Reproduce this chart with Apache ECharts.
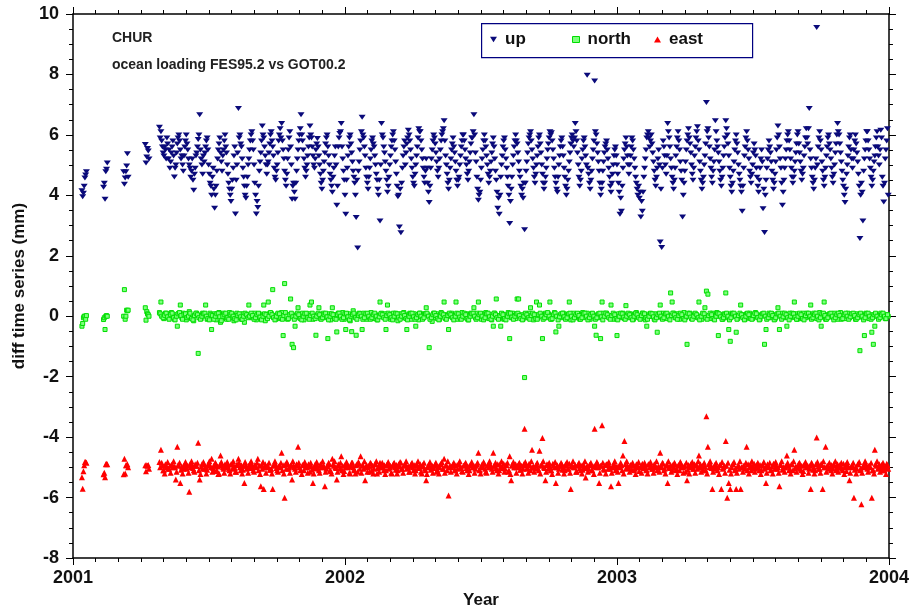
<!DOCTYPE html>
<html><head><meta charset="utf-8">
<script src="https://cdn.jsdelivr.net/npm/echarts@6/dist/echarts.min.js"></script>
<style>html,body{margin:0;padding:0;background:#fff}#main{width:912px;height:616px}</style>
</head><body><div id="main"></div>
<script>
// Day of observation, counted from 2001-01-01 (even-day samples + early 2001 clusters)
const days = [
12,13,14,15,16,17,18, 41,42,43,44,45,46, 68,69,70,71,72,73,74, 97,98,99,100,101,102,
116,118,120,122,124,126,128,130,132,134,136,138,140,142,144,
146,148,150,152,154,156,158,160,162,164,166,168,170,172,174,
176,178,180,182,184,186,188,190,192,194,196,198,200,202,204,
206,208,210,212,214,216,218,220,222,224,226,228,230,232,234,
236,238,240,242,244,246,248,250,252,254,256,258,260,262,264,
266,268,270,272,274,276,278,280,282,284,286,288,290,292,294,
296,298,300,302,304,306,308,310,312,314,316,318,320,322,324,
326,328,330,332,334,336,338,340,342,344,346,348,350,352,354,
356,358,360,362,364,366,368,370,372,374,376,378,380,382,384,
386,388,390,392,394,396,398,400,402,404,406,408,410,412,414,
416,418,420,422,424,426,428,430,432,434,436,438,440,442,444,
446,448,450,452,454,456,458,460,462,464,466,468,470,472,474,
476,478,480,482,484,486,488,490,492,494,496,498,500,502,504,
506,508,510,512,514,516,518,520,522,524,526,528,530,532,534,
536,538,540,542,544,546,548,550,552,554,556,558,560,562,564,
566,568,570,572,574,576,578,580,582,584,586,588,590,592,594,
596,598,600,602,604,606,608,610,612,614,616,618,620,622,624,
626,628,630,632,634,636,638,640,642,644,646,648,650,652,654,
656,658,660,662,664,666,668,670,672,674,676,678,680,682,684,
686,688,690,692,694,696,698,700,702,704,706,708,710,712,714,
716,718,720,722,724,726,728,730,732,734,736,738,740,742,744,
746,748,750,752,754,756,758,760,762,764,766,768,770,772,774,
776,778,780,782,784,786,788,790,792,794,796,798,800,802,804,
806,808,810,812,814,816,818,820,822,824,826,828,830,832,834,
836,838,840,842,844,846,848,850,852,854,856,858,860,862,864,
866,868,870,872,874,876,878,880,882,884,886,888,890,892,894,
896,898,900,902,904,906,908,910,912,914,916,918,920,922,924,
926,928,930,932,934,936,938,940,942,944,946,948,950,952,954,
956,958,960,962,964,966,968,970,972,974,976,978,980,982,984,
986,988,990,992,994,996,998,1000,1002,1004,1006,1008,1010,1012,1014,
1016,1018,1020,1022,1024,1026,1028,1030,1032,1034,1036,1038,1040,1042,1044,
1046,1048,1050,1052,1054,1056,1058,1060,1062,1064,1066,1068,1070,1072,1074,
1076,1078,1080,1082,1084,1086,1088,1090,1092,1094
];
const upValues = [
4.15,3.95,4.07,4.3,4.57,4.67,4.78, 4.27,4.4,3.87,4.78,4.86,5.07, 4.78,4.37,4.57,4.78,4.97,5.38,4.6, 5.68,5.07,5.27,5.55,5.47,5.2,
6.25,6.1,5.6,5.3,5.5,5.9,5.2,4.9,5.4,5.8,4.61,5.0,5.7,6.0,5.5,
5.3,4.8,5.6,6.0,5.5,5.0,4.6,5.2,4.17,4.9,5.4,5.85,6.67,5.2,4.7,
5.1,5.6,5.9,5.0,4.4,4.0,4.9,3.57,4.3,5.2,5.7,5.4,4.8,5.5,6.0,
5.4,4.7,4.2,3.8,4.5,5.3,3.38,5.0,6.87,6.0,5.6,4.9,4.3,3.9,4.6,
5.2,5.8,6.1,5.5,4.4,3.38,3.6,4.8,5.4,6.29,5.9,5.3,4.7,5.1,5.7,
6.1,5.6,4.9,4.5,5.0,5.8,6.2,6.38,5.5,4.8,4.3,5.2,5.9,5.6,3.87,
4.4,3.87,4.8,5.5,6.0,6.67,5.8,5.2,4.6,5.0,5.6,6.29,5.9,5.3,4.9,
5.5,5.88,5.3,4.7,4.2,4.8,5.4,5.9,5.6,5.0,4.5,4.1,4.9,5.6,3.67,
5.6,6.05,6.38,5.2,4.5,3.37,4.9,5.6,6.0,5.4,4.8,4.4,3.27,2.26,5.1,
5.8,6.58,5.9,5.3,4.6,4.2,4.9,5.5,5.9,5.6,5.0,4.5,4.0,3.15,6.38,
5.9,5.4,4.8,4.1,4.6,5.3,5.8,6.1,5.5,4.7,3.95,2.95,2.76,4.9,5.6,
5.0,5.7,6.15,5.8,5.2,4.6,4.3,5.0,5.6,6.2,6.1,5.5,4.9,4.4,5.2,
4.4,3.76,4.9,5.5,6.0,5.7,5.1,4.6,5.2,5.8,6.1,6.47,5.3,4.7,4.2,
4.9,5.5,5.9,5.4,4.8,4.3,4.6,5.3,5.8,6.0,5.5,5.0,4.5,5.1,5.7,
5.9,6.67,5.4,4.6,3.84,4.1,4.9,5.5,6.0,5.6,5.0,4.4,4.8,5.4,5.9,
5.2,4.5,3.57,3.37,4.6,5.3,5.8,5.5,4.9,4.3,3.07,4.2,5.0,5.6,6.0,
5.7,5.1,4.6,4.0,3.9,2.86,4.8,5.4,5.9,6.1,5.5,4.9,4.4,5.0,5.6,
6.0,5.4,4.7,4.2,4.6,5.2,5.7,6.1,6.07,5.5,4.9,4.4,4.1,5.0,5.6,
5.9,5.3,4.6,4.0,4.5,5.1,5.7,6.0,5.6,6.38,5.8,5.0,4.3,4.8,5.5,
5.9,5.3,7.97,4.7,4.2,4.8,5.5,7.78,6.0,5.4,4.8,4.0,4.4,5.1,5.6,
5.8,5.2,4.6,4.1,4.7,5.3,5.6,5.0,4.4,3.37,3.47,4.9,5.5,5.9,5.3,
4.7,5.3,5.9,5.5,4.9,4.4,4.0,3.9,3.28,3.47,4.6,5.2,5.9,6.1,5.6,
6.0,5.4,4.8,4.3,4.9,5.5,2.46,2.27,5.8,5.3,4.7,6.38,5.9,5.2,4.6,
4.2,4.9,5.6,6.1,5.5,4.8,3.28,4.4,5.1,5.8,6.2,5.7,5.0,4.5,5.3,
5.9,6.27,5.5,4.8,4.2,4.6,5.3,7.07,6.2,5.6,4.9,4.4,5.1,6.47,5.8,
5.4,4.8,4.3,4.9,5.6,6.47,6.0,5.3,4.6,4.1,4.8,5.5,6.0,5.4,4.7,
4.3,3.47,4.9,5.6,6.1,5.5,4.8,4.4,5.0,5.7,5.3,4.6,4.1,4.9,5.5,
3.56,2.77,4.5,5.2,5.8,5.4,4.8,4.2,4.7,5.5,6.29,5.6,4.9,3.67,4.5,
5.2,5.8,6.1,5.5,4.9,4.4,4.8,5.4,6.0,5.7,5.1,4.5,4.9,5.6,6.2,
5.7,6.87,5.2,4.6,4.2,4.9,9.55,5.6,6.1,5.5,4.8,4.3,4.9,5.6,6.0,
5.5,4.9,4.4,5.0,5.7,6.38,6.0,5.4,4.8,4.3,3.76,4.7,5.3,5.9,5.5,
4.9,5.5,6.0,5.4,4.7,2.57,4.4,3.15,5.2,5.8,6.1,5.5,4.9,4.3,4.8,
5.3,5.9,5.6,5.0,6.15,4.6,3.78,5.2,5.8,4.0
];
const northValues = [
-0.33,-0.24,-0.05,0.0,0.0,-0.1,0.02, -0.11,-0.05,-0.44,0.0,0.02,0.0, 0.0,0.88,-0.1,0.0,0.2,0.18,0.2, 0.28,-0.13,0.15,0.08,0.05,0.0,
0.12,0.47,0.05,-0.08,0.1,0.02,-0.05,0.08,0.12,0.0,-0.1,0.05,-0.33,0.1,0.37,
-0.05,0.1,0.0,-0.12,0.08,0.15,-0.05,0.0,-0.15,0.05,0.1,-1.23,0.02,-0.08,0.1,
0.05,0.37,-0.1,0.0,0.1,-0.44,-0.05,0.08,-0.12,0.0,0.12,-0.2,-0.05,0.1,0.03,
-0.1,0.0,0.12,-0.05,0.05,-0.15,0.0,0.1,-0.05,0.02,-0.1,0.08,-0.2,0.05,0.0,
0.37,0.05,-0.05,0.0,0.1,-0.12,0.02,0.08,-0.08,0.0,0.37,-0.15,0.05,0.47,0.1,
0.1,0.88,0.02,-0.1,0.05,0.0,-0.08,0.12,-0.64,1.08,0.05,-0.1,0.0,0.57,-0.93,
-1.04,-0.33,0.05,0.28,-0.05,0.0,0.1,-0.12,0.05,-0.02,0.08,0.37,0.47,-0.1,0.0,
-0.63,0.05,0.28,-0.08,0.0,0.1,-0.05,0.03,-0.74,0.08,-0.12,0.28,0.0,0.05,-0.52,
0.1,-0.05,0.05,0.12,-0.1,-0.44,0.0,0.08,-0.15,-0.51,0.18,0.05,-0.63,0.0,0.1,
0.05,-0.44,0.1,0.0,-0.1,0.08,-0.05,0.12,0.0,-0.08,0.05,-0.12,0.02,0.47,0.1,
0.0,0.08,-0.44,0.37,0.05,-0.1,0.02,0.1,-0.05,0.0,-0.15,0.05,0.08,-0.05,0.12,
-0.05,-0.44,0.05,0.1,-0.1,0.0,0.08,-0.33,0.02,-0.12,0.1,0.0,-0.05,0.08,0.28,
0.05,-1.04,0.0,-0.17,0.1,-0.05,0.08,0.0,-0.1,0.12,0.02,0.47,-0.08,0.05,-0.44,
0.0,0.1,-0.05,0.02,0.47,-0.1,0.05,-0.08,0.12,0.0,-0.05,0.08,-0.12,0.03,0.1,
0.05,0.28,-0.05,0.1,0.47,0.0,-0.1,0.08,-0.05,0.12,0.0,-0.08,0.05,-0.12,-0.33,
0.1,0.57,0.0,-0.05,-0.33,0.08,-0.1,0.05,0.0,0.12,-0.74,-0.05,0.1,0.02,-0.08,
0.57,0.57,0.0,0.05,-0.1,-2.03,0.08,-0.05,0.1,0.28,0.0,-0.12,0.05,0.47,-0.05,
0.37,0.05,-0.74,0.0,0.1,-0.05,0.08,0.47,-0.1,0.02,0.12,-0.52,0.0,-0.33,0.05,
-0.05,0.1,0.0,-0.08,0.05,0.47,-0.12,0.02,0.1,-0.05,0.0,0.08,-0.1,0.05,0.12,
0.05,-0.05,0.1,0.0,-0.1,0.08,0.02,-0.33,-0.63,0.05,-0.05,-0.74,0.47,0.1,0.0,
0.1,0.0,-0.05,0.37,0.02,-0.1,0.05,-0.64,0.08,-0.05,0.0,0.1,-0.08,0.35,0.05,
-0.05,0.08,0.0,-0.1,0.05,0.12,-0.02,0.0,-0.08,0.1,0.05,-0.12,-0.33,0.0,0.08,
0.0,0.05,-0.1,0.08,-0.53,0.0,0.37,-0.05,0.1,0.02,-0.08,0.05,0.0,0.77,0.47,
0.1,-0.05,0.0,0.08,-0.1,0.05,0.0,0.12,-0.05,-0.93,0.02,0.1,-0.08,0.0,0.05,
0.05,-0.05,0.47,0.0,-0.1,0.08,0.28,0.83,0.73,0.02,-0.08,0.1,-0.05,0.0,0.12,
-0.64,0.05,0.0,-0.1,0.08,0.77,-0.05,-0.44,-0.83,0.1,0.0,0.05,-0.53,-0.08,0.02,
0.37,0.0,0.05,-0.1,0.08,-0.05,0.1,0.0,-0.08,0.05,0.12,-0.02,0.0,-0.1,0.05,
0.05,-0.93,-0.44,0.0,0.1,-0.05,0.08,0.0,-0.1,0.05,0.28,-0.44,0.02,0.1,-0.05,
0.0,-0.33,0.05,0.1,-0.05,0.0,0.47,0.08,-0.1,0.02,0.05,-0.08,0.1,0.0,-0.05,
0.05,0.0,0.37,-0.05,0.1,0.0,-0.08,0.05,0.12,-0.33,0.0,0.47,-0.1,0.05,0.02,
0.0,0.08,-0.05,0.1,0.0,-0.1,0.05,0.12,-0.02,0.0,-0.08,0.05,0.1,-0.05,0.0,
0.05,0.0,-0.1,0.08,0.0,-1.14,0.05,-0.05,-0.64,0.1,0.0,-0.08,0.05,-0.53,-0.93,
-0.33,0.05,0.0,-0.05,0.1,0.0,0.02,-0.08,0.05,0.0
];
const eastValues = [
-5.33,-5.71,-5.13,-4.93,-4.82,-4.82,-4.85, -5.23,-5.18,-5.33,-4.9,-4.88,-4.9, -5.23,-4.72,-5.2,-4.93,-4.93,-4.9,-5.0, -4.93,-5.13,-4.93,-4.95,-4.92,-5.05,
-4.82,-4.42,-4.95,-5.1,-4.9,-5.0,-5.05,-4.95,-4.92,-5.0,-4.97,-5.4,-4.32,-4.95,-5.52,
-4.97,-5.05,-4.9,-5.0,-4.95,-5.81,-5.0,-4.92,-5.1,-4.9,-4.95,-4.19,-5.4,-4.98,-5.05,
-4.9,-5.0,-5.08,-4.88,-4.95,-4.72,-5.02,-5.12,-4.9,-4.97,-5.2,-4.61,-4.95,-5.05,-4.9,
-5.0,-4.95,-5.1,-4.9,-5.05,-4.95,-5.15,-4.9,-4.72,-5.0,-4.93,-5.08,-5.52,-4.95,-5.02,
-4.95,-5.02,-4.9,-5.1,-4.92,-5.0,-4.72,-4.95,-5.63,-5.05,-5.72,-4.9,-5.0,-4.98,-5.08,
-5.05,-5.72,-4.95,-4.9,-5.1,-4.97,-5.0,-4.52,-4.93,-6.01,-5.05,-4.9,-5.0,-4.95,-5.4,
-4.95,-5.05,-4.9,-4.32,-5.0,-5.08,-4.92,-5.1,-4.95,-5.0,-4.9,-5.15,-4.97,-5.52,-5.0,
-5.02,-4.95,-5.1,-4.9,-5.0,-4.93,-5.63,-5.05,-4.97,-4.9,-5.12,-4.72,-4.95,-5.0,-5.4,
-4.9,-5.05,-4.63,-4.95,-5.12,-5.0,-4.9,-4.97,-5.2,-4.85,-5.0,-5.1,-4.93,-5.15,-4.88,
-4.63,-4.95,-5.05,-5.43,-4.92,-5.0,-5.15,-4.88,-4.95,-5.05,-4.9,-5.2,-4.97,-4.85,-5.0,
-5.0,-4.93,-5.1,-4.9,-5.05,-4.95,-5.2,-4.88,-5.0,-4.92,-5.1,-4.97,-4.85,-5.05,-4.95,
-4.9,-5.05,-4.97,-5.15,-4.88,-5.0,-4.93,-5.1,-4.95,-5.0,-4.9,-5.2,-4.97,-5.05,-5.43,
-5.0,-4.92,-5.08,-4.95,-5.02,-4.9,-5.15,-4.97,-5.0,-4.88,-5.05,-4.72,-4.95,-5.1,-5.93,
-4.95,-5.0,-4.9,-5.1,-4.93,-5.05,-4.88,-5.0,-5.12,-4.95,-4.9,-5.02,-4.97,-5.1,-4.92,
-5.0,-4.95,-5.05,-4.9,-4.52,-5.1,-4.97,-5.0,-4.88,-5.15,-4.95,-5.0,-4.9,-5.05,-4.52,
-4.95,-5.02,-4.9,-5.1,-4.97,-5.0,-4.88,-5.05,-4.93,-5.15,-4.63,-5.43,-4.95,-5.0,-4.9,
-5.0,-4.9,-5.08,-4.95,-5.05,-3.72,-4.93,-5.0,-4.88,-5.1,-4.42,-4.97,-5.02,-4.9,-5.05,
-4.45,-4.95,-4.03,-5.0,-5.43,-4.9,-5.05,-4.97,-5.1,-4.88,-5.0,-5.52,-4.93,-5.05,-4.95,
-4.9,-5.0,-5.1,-4.95,-5.05,-4.88,-5.72,-4.97,-5.0,-4.92,-5.15,-4.9,-5.02,-4.95,-5.08,
-5.0,-5.34,-4.95,-5.05,-4.9,-5.1,-4.97,-3.72,-5.0,-4.88,-5.52,-4.95,-3.61,-5.05,-4.92,
-4.9,-5.05,-4.95,-5.63,-5.0,-4.88,-5.1,-4.97,-5.52,-5.0,-4.93,-4.61,-4.13,-5.05,-4.95,
-5.0,-4.92,-5.08,-4.95,-5.05,-4.9,-5.0,-5.12,-4.97,-4.88,-5.02,-4.95,-5.1,-4.9,-5.0,
-4.95,-5.05,-4.9,-5.0,-5.1,-4.97,-4.52,-5.0,-4.88,-5.05,-4.95,-5.52,-5.0,-4.92,-5.08,
-5.0,-4.9,-5.05,-4.95,-5.1,-4.88,-5.0,-4.97,-5.15,-5.43,-4.92,-5.0,-4.95,-5.05,-4.9,
-4.95,-5.05,-4.61,-4.9,-5.0,-5.1,-4.97,-3.31,-4.32,-5.0,-4.92,-5.72,-5.05,-4.95,-5.0,
-5.0,-4.92,-5.72,-5.05,-4.95,-4.13,-6.01,-5.52,-5.72,-5.0,-4.9,-5.1,-5.72,-4.97,-5.05,
-5.72,-5.0,-4.95,-5.05,-4.32,-4.9,-5.0,-5.1,-4.97,-4.88,-5.05,-4.95,-5.0,-4.92,-5.1,
-4.95,-5.05,-5.52,-4.9,-5.0,-5.1,-4.97,-4.88,-5.05,-4.95,-5.0,-5.63,-4.92,-5.08,-5.0,
-5.0,-4.61,-4.95,-5.05,-4.9,-5.1,-4.42,-4.97,-5.0,-4.88,-5.05,-4.95,-5.12,-4.9,-5.0,
-4.95,-5.05,-5.72,-4.9,-5.0,-5.1,-4.01,-4.97,-5.05,-4.88,-5.72,-5.0,-4.32,-4.95,-5.05,
-5.0,-4.92,-5.05,-4.95,-5.1,-4.9,-5.0,-4.97,-5.05,-4.88,-5.0,-5.12,-4.95,-5.43,-5.0,
-4.95,-6.01,-5.0,-5.05,-4.9,-5.1,-6.22,-4.97,-5.0,-4.88,-5.05,-4.95,-5.0,-6.01,-5.1,
-4.42,-4.95,-5.05,-4.9,-5.0,-5.1,-4.97,-5.0,-4.88,-5.05
];
// Odd-day samples (filling in the daily series)
const daysOdd = [
117,119,121,123,125,127,129,131,133,135,137,139,141,143,145,
147,149,151,153,155,157,159,161,163,165,167,169,171,173,175,
177,179,181,183,185,187,189,191,193,195,197,199,201,203,205,
207,209,211,213,215,217,219,221,223,225,227,229,231,233,235,
237,239,241,243,245,247,249,251,253,255,257,259,261,263,265,
267,269,271,273,275,277,279,281,283,285,287,289,291,293,295,
297,299,301,303,305,307,309,311,313,315,317,319,321,323,325,
327,329,331,333,335,337,339,341,343,345,347,349,351,353,355,
357,359,361,363,365,367,369,371,373,375,377,379,381,383,385,
387,389,391,393,395,397,399,401,403,405,407,409,411,413,415,
417,419,421,423,425,427,429,431,433,435,437,439,441,443,445,
447,449,451,453,455,457,459,461,463,465,467,469,471,473,475,
477,479,481,483,485,487,489,491,493,495,497,499,501,503,505,
507,509,511,513,515,517,519,521,523,525,527,529,531,533,535,
537,539,541,543,545,547,549,551,553,555,557,559,561,563,565,
567,569,571,573,575,577,579,581,583,585,587,589,591,593,595,
597,599,601,603,605,607,609,611,613,615,617,619,621,623,625,
627,629,631,633,635,637,639,641,643,645,647,649,651,653,655,
657,659,661,663,665,667,669,671,673,675,677,679,681,683,685,
687,689,691,693,695,697,699,701,703,705,707,709,711,713,715,
717,719,721,723,725,727,729,731,733,735,737,739,741,743,745,
747,749,751,753,755,757,759,761,763,765,767,769,771,773,775,
777,779,781,783,785,787,789,791,793,795,797,799,801,803,805,
807,809,811,813,815,817,819,821,823,825,827,829,831,833,835,
837,839,841,843,845,847,849,851,853,855,857,859,861,863,865,
867,869,871,873,875,877,879,881,883,885,887,889,891,893,895,
897,899,901,903,905,907,909,911,913,915,917,919,921,923,925,
927,929,931,933,935,937,939,941,943,945,947,949,951,953,955,
957,959,961,963,965,967,969,971,973,975,977,979,981,983,985,
987,989,991,993,995,997,999,1001,1003,1005,1007,1009,1011,1013,1015,
1017,1019,1021,1023,1025,1027,1029,1031,1033,1035,1037,1039,1041,1043,1045,
1047,1049,1051,1053,1055,1057,1059,1061,1063,1065,1067,1069,1071,1073,1075,
1077,1079,1081,1083,1085,1087,1089,1091,1093
];
const upOdd = [
5.9,5.8,5.4,5.6,5.2,5.7,5.5,5.1,5.6,5.3,4.9,5.4,5.9,5.8,5.2,
5.0,5.3,5.8,5.7,5.2,4.9,4.8,4.5,4.7,5.3,5.6,6.0,5.5,5.0,5.3,
5.4,5.8,5.5,4.7,4.3,4.6,4.2,4.0,4.8,5.5,5.9,5.1,5.3,5.8,5.6,
5.0,4.4,4.0,4.2,4.9,5.6,4.5,5.4,5.9,5.7,5.2,4.6,4.0,4.3,5.0,
5.5,6.0,5.8,5.0,4.0,3.8,4.3,5.1,5.8,6.0,5.6,5.0,5.0,5.4,6.0,
5.8,5.3,4.6,4.8,5.4,6.0,5.9,5.8,5.2,4.5,4.7,5.5,6.1,5.0,4.3,
4.1,4.4,5.2,5.8,6.2,6.0,5.5,4.9,4.8,5.3,5.9,6.0,5.6,5.0,5.2,
5.7,5.6,5.0,4.4,4.5,5.1,5.7,6.0,5.3,4.7,4.3,4.6,5.3,5.0,4.3,
5.9,6.1,5.6,4.8,4.0,4.5,5.3,5.9,5.7,5.1,4.6,4.0,4.5,4.8,5.5,
6.1,6.0,5.6,4.9,4.4,4.6,5.2,5.8,5.7,5.3,4.7,4.2,4.5,5.0,6.0,
5.6,5.1,4.5,4.3,5.0,5.6,6.0,5.8,5.1,4.3,4.0,4.2,4.4,5.3,5.8,
5.4,5.9,6.0,5.5,4.9,4.4,4.7,5.3,5.9,6.1,5.8,5.2,4.6,4.8,4.9,
4.1,4.3,5.2,5.8,5.9,5.4,4.8,4.9,5.5,6.0,6.2,5.8,5.0,4.4,4.5,
5.2,5.7,5.6,5.1,4.5,4.5,5.0,5.6,6.0,5.8,5.2,4.7,4.8,5.4,5.9,
6.1,6.0,5.1,4.2,4.0,4.5,5.2,5.8,5.8,5.3,4.7,4.6,5.1,5.7,5.6,
4.8,4.1,3.9,4.0,5.0,5.6,5.9,5.2,4.6,4.0,3.8,4.6,5.3,5.8,5.8,
5.4,4.8,4.3,4.2,4.4,4.4,5.1,5.7,6.0,5.8,5.2,4.6,4.7,5.3,5.9,
5.7,5.0,4.4,4.4,4.9,5.5,5.9,6.0,5.8,5.2,4.6,4.2,4.6,5.3,5.8,
5.6,4.9,4.3,4.2,4.8,5.4,5.9,5.8,5.9,6.1,5.4,4.6,4.5,5.2,5.8,
5.6,5.0,4.9,4.4,4.5,5.2,5.8,6.1,5.7,5.1,4.4,4.2,4.8,5.4,5.7,
5.5,4.9,4.3,4.4,5.0,5.5,5.3,4.7,4.1,3.9,4.3,5.2,5.7,5.6,5.0,
5.0,5.6,5.8,5.2,4.6,4.2,4.3,4.1,3.8,4.1,4.9,5.5,6.0,5.9,5.8,
5.7,5.1,4.5,4.6,5.2,5.0,4.2,4.9,5.6,5.0,5.3,6.1,5.6,4.9,4.4,
4.5,5.3,5.9,5.8,5.1,4.5,4.0,4.8,5.5,6.0,5.9,5.4,4.7,4.9,5.6,
6.1,5.8,5.1,4.5,4.4,5.0,5.7,6.1,5.9,5.2,4.6,4.8,5.5,6.1,5.6,
5.1,4.5,4.6,5.3,5.9,6.2,5.7,4.9,4.3,4.4,5.1,5.8,5.7,5.0,4.5,
4.1,4.3,5.3,5.9,5.8,5.2,4.6,4.7,5.4,5.5,4.9,4.3,4.5,5.2,5.1,
4.2,4.0,4.9,5.5,5.6,5.1,4.5,4.4,5.1,5.9,6.0,5.2,4.4,4.1,4.9,
5.5,6.0,5.8,5.2,4.6,4.6,5.1,5.7,6.1,5.4,4.8,4.7,5.3,5.9,5.9,
6.2,5.5,4.9,4.4,4.5,5.2,5.0,5.9,5.8,5.1,4.5,4.6,5.3,5.9,5.7,
5.2,4.6,4.7,5.4,6.0,6.1,5.7,5.1,4.5,4.0,4.2,5.0,5.6,6.0,5.2,
5.2,5.8,5.7,5.1,4.3,4.0,4.1,4.8,5.5,6.1,5.8,5.2,4.6,4.5,5.1,
5.6,6.1,5.3,5.5,5.9,4.3,4.4,5.5,6.2
];
const northOdd = [
0.08,0.0,-0.05,0.03,0.1,-0.02,-0.1,0.05,0.1,-0.05,-0.12,0.0,0.08,0.12,0.02,
-0.1,0.05,0.08,-0.05,0.0,0.1,-0.08,-0.12,0.02,0.1,0.05,-0.05,-0.1,0.0,0.08,
0.1,0.0,-0.08,-0.12,0.05,0.02,-0.1,0.0,0.08,0.1,-0.02,-0.15,0.0,0.05,0.1,
-0.05,-0.1,0.05,0.1,0.0,-0.08,-0.12,0.03,0.08,-0.02,-0.1,0.0,0.1,0.05,-0.05,
0.0,0.1,0.02,-0.1,-0.05,0.05,0.1,-0.03,-0.12,0.0,0.08,0.05,-0.08,0.0,0.12,
0.05,-0.05,-0.12,0.0,0.1,0.08,-0.05,-0.1,0.02,0.12,0.0,-0.08,0.05,0.1,-0.02,
-0.1,0.0,0.1,0.05,-0.08,-0.12,0.0,0.08,0.1,-0.05,-0.1,0.02,0.1,0.0,-0.08,
0.0,0.1,0.05,-0.1,-0.05,0.05,0.1,-0.02,-0.12,0.0,0.08,0.05,-0.08,-0.1,0.05,
0.1,0.0,-0.1,-0.05,0.08,0.1,-0.02,-0.12,0.0,0.05,0.1,-0.05,-0.1,0.03,0.08,
0.0,-0.1,-0.05,0.08,0.1,0.0,-0.1,-0.05,0.05,0.1,0.0,-0.12,-0.02,0.08,0.05,
-0.05,-0.1,0.02,0.1,0.05,-0.05,-0.12,0.0,0.1,0.08,-0.03,-0.1,0.0,0.1,0.02,
-0.08,-0.12,0.0,0.08,0.1,-0.02,-0.1,-0.05,0.05,0.1,0.0,-0.1,-0.05,0.08,0.1,
0.0,-0.1,-0.05,0.05,0.1,0.02,-0.08,-0.12,0.0,0.1,0.05,-0.05,-0.1,0.02,0.1,
0.05,-0.05,-0.12,0.0,0.1,0.08,-0.03,-0.1,0.0,0.1,0.05,-0.08,-0.12,0.0,0.08,
0.1,0.0,-0.1,-0.05,0.05,0.1,0.0,-0.12,-0.05,0.08,0.1,-0.02,-0.1,0.0,0.1,
0.05,-0.05,-0.1,0.02,0.1,0.05,-0.08,-0.12,0.0,0.08,0.1,-0.03,-0.1,0.0,0.08,
0.1,0.02,-0.08,-0.12,0.0,0.1,0.05,-0.05,-0.1,0.02,0.1,0.05,-0.08,-0.1,0.05,
0.1,0.0,-0.1,-0.05,0.05,0.12,0.0,-0.1,-0.08,0.05,0.1,0.0,-0.12,-0.02,0.08,
0.1,-0.02,-0.1,-0.05,0.08,0.1,0.0,-0.12,-0.05,0.05,0.1,0.02,-0.1,-0.05,0.08,
0.1,0.0,-0.12,-0.05,0.05,0.1,0.0,-0.1,-0.05,0.08,0.1,-0.02,-0.12,0.0,0.1,
0.05,-0.05,-0.1,0.02,0.1,0.05,-0.08,-0.12,0.0,0.1,0.08,-0.03,-0.1,0.0,0.1,
0.05,-0.05,-0.12,0.0,0.1,0.05,-0.05,-0.1,0.02,0.1,0.08,-0.05,-0.1,0.0,0.1,
0.08,-0.02,-0.12,-0.05,0.05,0.1,0.0,-0.1,-0.05,0.08,0.1,0.0,-0.12,0.02,0.1,
0.05,-0.05,-0.1,0.02,0.1,0.05,-0.08,-0.12,0.0,0.1,0.08,-0.03,-0.1,0.0,0.1,
0.05,-0.05,-0.12,0.0,0.1,0.08,-0.05,-0.1,0.02,0.1,0.05,-0.08,-0.12,0.0,0.1,
0.08,-0.02,-0.1,-0.05,0.05,0.1,0.0,-0.12,-0.05,0.08,0.1,0.0,-0.1,0.02,0.1,
0.05,-0.05,-0.12,0.0,0.1,0.05,-0.08,-0.1,0.02,0.1,0.08,-0.05,-0.12,0.0,0.08,
0.1,0.0,-0.1,-0.05,0.05,0.1,0.02,-0.12,-0.05,0.08,0.1,0.0,-0.1,-0.02,0.1,
0.05,-0.05,-0.12,0.0,0.1,0.08,-0.03,-0.1,0.0,0.1,0.05,-0.08,-0.12,0.02,0.1,
0.1,0.0,-0.1,-0.05,0.05,0.1,0.0,-0.12,-0.05,0.08,0.1,0.02,-0.1,-0.05,0.08,
0.1,0.0,-0.12,-0.05,0.05,0.1,0.02,-0.1,-0.08,0.05,0.1,0.0,-0.1,-0.02,0.08,
0.1,0.02,-0.1,-0.05,0.05,0.1,0.0,-0.12,-0.05,0.08,0.1,0.0,-0.1,-0.05,0.05,
0.1,0.0,-0.1,-0.05,0.05,0.1,0.0,-0.08,0.05
];
const eastOdd = [
-5.0,-4.85,-5.1,-5.2,-4.95,-4.82,-5.05,-5.18,-4.9,-4.8,-5.0,-5.15,-4.92,-4.85,-5.08,
-5.2,-4.95,-4.82,-5.05,-5.18,-4.9,-4.8,-5.02,-5.15,-4.95,-4.85,-5.1,-5.22,-4.9,-4.82,
-5.05,-5.2,-4.92,-4.8,-5.0,-5.15,-4.95,-4.85,-5.1,-5.22,-4.92,-4.82,-5.0,-5.18,-4.95,
-4.82,-5.05,-5.2,-4.9,-4.8,-5.02,-5.15,-4.92,-4.85,-5.1,-5.2,-4.95,-4.82,-5.05,-5.18,
-4.9,-4.8,-5.0,-5.15,-4.95,-4.85,-5.1,-5.22,-4.92,-4.82,-5.0,-5.18,-4.95,-4.85,-5.08,
-5.2,-4.92,-4.8,-5.02,-5.15,-4.95,-4.85,-5.1,-5.2,-4.9,-4.82,-5.05,-5.18,-4.92,-4.8,
-5.0,-5.15,-4.95,-4.85,-5.1,-5.22,-4.92,-4.82,-5.0,-5.18,-4.95,-4.85,-5.08,-5.2,-4.9,
-4.82,-5.05,-5.18,-4.92,-4.8,-5.0,-5.15,-4.95,-4.85,-5.1,-5.2,-4.9,-4.8,-5.02,-5.15,
-4.95,-4.85,-5.1,-5.22,-4.92,-4.82,-5.0,-5.18,-4.95,-4.85,-5.08,-5.2,-4.9,-4.82,-5.05,
-5.18,-4.92,-4.8,-5.0,-5.15,-4.95,-4.85,-5.1,-5.2,-4.9,-4.8,-5.02,-5.15,-4.92,-4.85,
-5.1,-5.22,-4.92,-4.82,-5.0,-5.18,-4.95,-4.85,-5.08,-5.2,-4.9,-4.82,-5.05,-5.18,-4.92,
-4.8,-5.0,-5.15,-4.95,-4.85,-5.1,-5.2,-4.9,-4.8,-5.02,-5.15,-4.92,-4.85,-5.1,-5.22,
-4.92,-4.82,-5.0,-5.18,-4.95,-4.85,-5.08,-5.2,-4.9,-4.82,-5.05,-5.18,-4.92,-4.8,-5.0,
-5.15,-4.95,-4.85,-5.1,-5.2,-4.9,-4.8,-5.02,-5.15,-4.92,-4.85,-5.1,-5.22,-4.92,-4.82,
-5.0,-5.18,-4.95,-4.85,-5.08,-5.2,-4.9,-4.82,-5.05,-5.18,-4.92,-4.8,-5.0,-5.15,-4.95,
-4.85,-5.1,-5.2,-4.9,-4.8,-5.02,-5.15,-4.92,-4.85,-5.1,-5.22,-4.92,-4.82,-5.0,-5.18,
-4.95,-4.85,-5.08,-5.2,-4.9,-4.82,-5.05,-5.18,-4.92,-4.8,-5.0,-5.15,-4.95,-4.85,-5.1,
-5.2,-4.9,-4.8,-5.02,-5.15,-4.92,-4.85,-5.1,-5.22,-4.92,-4.82,-5.0,-5.18,-4.95,-4.85,
-5.08,-5.2,-4.9,-4.82,-5.05,-5.18,-4.92,-4.8,-5.0,-5.15,-4.95,-4.85,-5.1,-5.2,-4.9,
-4.8,-5.02,-5.15,-4.92,-4.85,-5.1,-5.22,-4.92,-4.82,-5.0,-5.18,-4.95,-4.85,-5.08,-5.2,
-4.9,-4.82,-5.05,-5.18,-4.92,-4.8,-5.0,-5.15,-4.95,-4.85,-5.1,-5.2,-4.9,-4.8,-5.02,
-5.15,-4.92,-4.85,-5.1,-5.22,-4.92,-4.82,-5.0,-5.18,-4.95,-4.85,-5.08,-5.2,-4.9,-4.82,
-5.05,-5.18,-4.92,-4.8,-5.0,-5.15,-4.95,-4.85,-5.1,-5.2,-4.9,-4.8,-5.02,-5.15,-4.92,
-4.85,-5.1,-5.22,-4.92,-4.82,-5.0,-5.18,-4.95,-4.85,-5.08,-5.2,-4.9,-4.82,-5.05,-5.18,
-4.92,-4.8,-5.0,-5.15,-4.95,-4.85,-5.1,-5.2,-4.9,-4.8,-5.02,-5.15,-4.92,-4.85,-5.1,
-5.22,-4.92,-4.82,-5.0,-5.18,-4.95,-4.85,-5.08,-5.2,-4.9,-4.82,-5.05,-5.18,-4.92,-4.8,
-5.0,-5.15,-4.95,-4.85,-5.1,-5.2,-4.9,-4.8,-5.02,-5.15,-4.92,-4.85,-5.1,-5.22,-4.92,
-4.82,-5.0,-5.18,-4.95,-4.85,-5.08,-5.2,-4.9,-4.82,-5.05,-5.18,-4.92,-4.8,-5.0,-5.15,
-4.95,-4.85,-5.1,-5.2,-4.9,-4.8,-5.02,-5.15,-4.92,-4.85,-5.1,-5.22,-4.92,-4.82,-5.0,
-5.18,-4.95,-4.85,-5.08,-5.2,-4.9,-4.82,-5.05,-5.18,-4.92,-4.8,-5.0,-5.15,-4.95,-4.85,
-5.1,-5.2,-4.9,-4.8,-5.02,-5.15,-4.92,-4.85,-5.1,-5.22,-4.92,-4.82,-5.0,-5.18,-4.95,
-4.85,-5.08,-5.2,-4.9,-4.82,-5.05,-5.18,-4.92,-4.8,-5.0,-5.15,-4.95,-4.85,-5.1,-5.2,
-4.9,-4.8,-5.02,-5.15,-4.92,-4.85,-5.1,-5.22,-4.92
];
const seriesNames = ['up', 'north', 'east'];
const yearTicks = [2001, 2002, 2003, 2004];
const stationName = 'CHUR';
const subtitle = 'ocean loading FES95.2 vs GOT00.2';

const FONT = "'Liberation Sans', Arial, Helvetica, sans-serif";
const toYear = d => yearTicks[0] + d / 365;
const pts = (ds, vals) => ds.slice(0, vals.length).map((d, i) => [toYear(d), vals[i]]);
const both = (a, b) => pts(days, a).concat(pts(daysOdd, b));

const legendIcons = [
  {icon: 'path://M0,0L10,0L5,8Z', itemStyle: {color: '#0a0a7a'}},
  {icon: 'rect', itemStyle: {color: '#7dff7d', borderColor: '#00dd00', borderWidth: 1}},
  {icon: 'triangle', itemStyle: {color: '#ff0000'}}
];
const legendLeft = [490, 572, 654];
const legends = seriesNames.map((n, i) => ({
  left: legendLeft[i], top: 31, padding: 0, itemWidth: 7, itemHeight: 6, itemGap: 0,
  textStyle: {fontFamily: FONT, fontSize: 17, fontWeight: 'bold', color: '#111', padding: [0, 0, 0, 3]},
  data: [Object.assign({name: n}, legendIcons[i])]
}));

const chart = echarts.init(document.getElementById('main'), null, {renderer: 'canvas'});
const axisCommon = {
  axisLine: {show: true, onZero: false, lineStyle: {color: '#000', width: 1.5}},
  axisTick: {show: true, inside: false, length: 7, lineStyle: {color: '#000', width: 1}},
  minorTick: {show: true, length: 4, lineStyle: {color: '#000', width: 1}},
  splitLine: {show: false}, minorSplitLine: {show: false}
};
chart.setOption({
  animation: false,
  backgroundColor: '#fff',
  title: [
    {text: stationName, left: 112, top: 31, padding: 0,
     textStyle: {fontFamily: FONT, fontSize: 14, fontWeight: 'bold', color: '#222'}},
    {text: subtitle, left: 112, top: 58, padding: 0,
     textStyle: {fontFamily: FONT, fontSize: 14, fontWeight: 'bold', color: '#222'}}
  ],
  graphic: [{
    type: 'rect', left: 481, top: 23, z: 5, silent: true,
    shape: {width: 271, height: 34},
    style: {fill: '#fff', stroke: '#000080', lineWidth: 1.2}
  }],
  legend: legends.map(l => Object.assign(l, {z: 10})),
  grid: {left: 73, right: 19, top: 14, bottom: 58, containLabel: false},
  xAxis: [
    Object.assign({}, axisCommon, {
      type: 'value', position: 'bottom', min: yearTicks[0], max: yearTicks[yearTicks.length - 1], interval: 1,
      minorTick: Object.assign({}, axisCommon.minorTick, {splitNumber: 12}),
      name: 'Year', nameLocation: 'middle', nameGap: 34,
      nameTextStyle: {fontFamily: FONT, fontSize: 17, fontWeight: 'bold', color: '#111'},
      axisLabel: {fontFamily: FONT, fontSize: 18, fontWeight: 'bold', color: '#111', margin: 11,
        formatter: v => String(Math.round(v))}
    }),
    Object.assign({}, axisCommon, {
      type: 'value', position: 'top', min: yearTicks[0], max: yearTicks[yearTicks.length - 1], interval: 1,
      minorTick: Object.assign({}, axisCommon.minorTick, {splitNumber: 12}),
      axisLabel: {show: false}
    })
  ],
  yAxis: [
    Object.assign({}, axisCommon, {
      type: 'value', position: 'left', min: -8, max: 10, interval: 2,
      minorTick: Object.assign({}, axisCommon.minorTick, {splitNumber: 4}),
      name: 'diff time series (mm)', nameLocation: 'middle', nameGap: 43, nameRotate: 90,
      nameTextStyle: {fontFamily: FONT, fontSize: 17, fontWeight: 'bold', color: '#111'},
      axisLabel: {fontFamily: FONT, fontSize: 18, fontWeight: 'bold', color: '#111', margin: 14}
    }),
    Object.assign({}, axisCommon, {
      type: 'value', position: 'right', min: -8, max: 10, interval: 2,
      minorTick: Object.assign({}, axisCommon.minorTick, {splitNumber: 4}),
      axisLabel: {show: false}
    })
  ],
  series: [
    {name: seriesNames[0], type: 'scatter', data: both(upValues, upOdd), symbol: 'triangle', symbolRotate: 180,
     symbolSize: [7, 5], itemStyle: {color: '#0a0a7a', opacity: 1}},
    {name: seriesNames[1], type: 'scatter', data: both(northValues, northOdd), symbol: 'rect', symbolSize: 4,
     itemStyle: {color: '#7dff7d', borderColor: '#00dd00', borderWidth: 1, opacity: 1}},
    {name: seriesNames[2], type: 'scatter', data: both(eastValues, eastOdd), symbol: 'triangle', symbolSize: [6, 6],
     itemStyle: {color: '#ff0000', opacity: 1}}
  ]
});
</script></body></html>
